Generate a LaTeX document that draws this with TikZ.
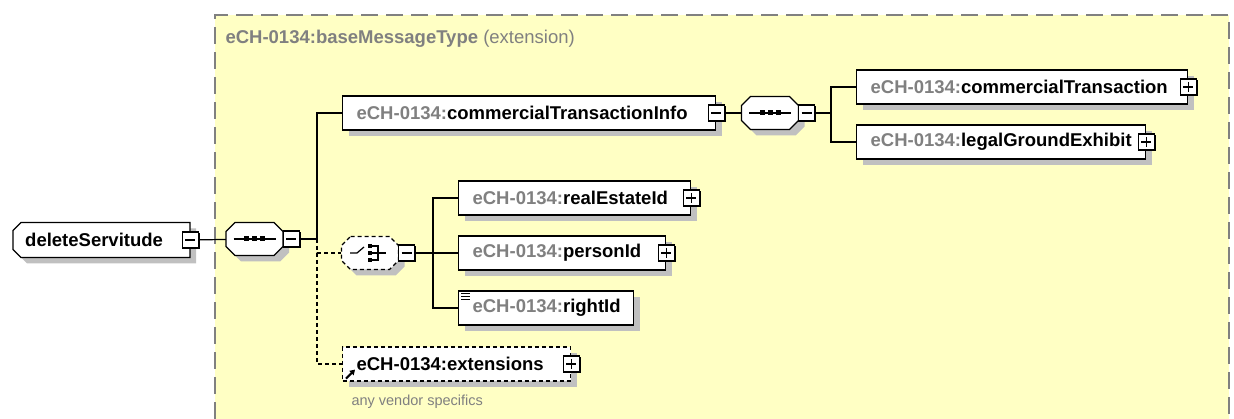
\documentclass[tikz,border=0pt]{standalone}
\usepackage{fontspec}
\setmainfont{Liberation Sans}
\usetikzlibrary{shadows, positioning, arrows.meta}

\definecolor{xsdyellow}{RGB}{255,255,196}
\definecolor{nsgray}{RGB}{128,128,128}
\definecolor{shadowgray}{RGB}{192,192,192}

% element name with the eCH-0134 prefix
\newcommand{\ech}[1]{\mbox{{\color{nsgray}eCH-0134:}#1}}

\tikzset{
  boxshadow/.style={drop shadow={shadow xshift=6pt, shadow yshift=-6pt, fill=shadowgray, opacity=1}},
  elem/.style={draw, fill=white, line width=1.2pt, minimum height=34pt, inner xsep=14pt, inner ysep=0pt, align=left, boxshadow},
  optelem/.style={elem, dash pattern=on 4pt off 3pt},
  compnode/.style={minimum width=57pt, minimum height=33pt, inner sep=0pt},
  pmbox/.style={draw, fill=white, line width=1.2pt, minimum size=16pt, inner sep=0pt,
    drop shadow={shadow xshift=1.5pt, shadow yshift=-1.5pt, fill=black, opacity=1}},
  minusbox/.style={pmbox, path picture={
    \draw[line width=1.2pt] ([xshift=3pt]path picture bounding box.west) -- ([xshift=-3pt]path picture bounding box.east);}},
  plusbox/.style={pmbox, path picture={
    \draw[line width=1.2pt] ([xshift=3pt]path picture bounding box.west) -- ([xshift=-3pt]path picture bounding box.east)
      ([yshift=-3pt]path picture bounding box.north) -- ([yshift=3pt]path picture bounding box.south);}},
  link/.style={line width=1.2pt},
  optlink/.style={link, dash pattern=on 4pt off 3pt},
  rootbox/.pic={
    \draw[fill=white, line width=1.2pt, boxshadow]
      (-80.5,-17.5) -- (88.5,-17.5) -- (88.5,17.5) -- (-80.5,17.5) -- (-88.5,9.5) -- (-88.5,-9.5) -- cycle;
  },
  compbox/.pic={
    \draw[fill=white, line width=1.2pt, boxshadow, pic actions]
      (-19.5,-16.5) -- (19.5,-16.5) -- (28.5,-7.5) -- (28.5,7.5) -- (19.5,16.5) -- (-19.5,16.5)
      -- (-28.5,7.5) -- (-28.5,-7.5) -- cycle;
  },
  seqicon/.pic={
    \draw[line width=1.2pt] (-21,0) -- (21,0);
    \foreach \dx in {-8,0,8}
      \fill (\dx-2.5,-2.5) rectangle (\dx+2.5,2.5);
  },
  choiceicon/.pic={
    \draw[line width=1.2pt] (-20,0) -- (-13,0) -- (-6,-6);
    \foreach \dy in {-7,0,7}
      \fill (-2,\dy-2) rectangle (2,\dy+2);
    \draw[line width=1.2pt] (2,-7) -- (8,-7) -- (8,7) -- (2,7) (2,0) -- (16,0);
  },
}

\begin{document}
\begin{tikzpicture}[x=1pt, y=-1pt, font=\fontsize{18.5}{22}\selectfont\bfseries]
  \useasboundingbox (0,0) rectangle (1234,419);
  % extension area
  \fill[xsdyellow] (215,15) rectangle (1229,419);
  \draw[nsgray, line width=1.5pt, dash pattern=on 17pt off 8pt] (215,419) -- (215,15) -- (1229,15) -- (1229,419);
  \node[anchor=west, text=nsgray] (hdr) at (222,39) {eCH-0134:baseMessageType \mdseries(extension)};

  % root element
  \pic at (101.5,240) {rootbox};
  \node[minimum height=35pt, inner xsep=12pt, text width=153pt, align=left, anchor=west] (del) at (13,240) {deleteServitude};
  \node[minusbox] (delm) at (del.east) {};

  % main sequence
  \node[compnode] (seq) at (254.5,239) {};
  \pic at (seq) {compbox};
  \pic at (seq) {seqicon};
  \node[minusbox, right=0pt of seq.east, anchor=center, xshift=8pt] (seqm) {};
  \coordinate (bus1) at (317,239);

  \node[elem, anchor=west, text width=345pt] (cti) at (342,113) {\ech{commercialTransactionInfo}};
  \node[minusbox] (ctim) at (cti.east) {};
  \node[compnode] (seqb) at (770,113) {};
  \pic at (seqb) {compbox};
  \pic at (seqb) {seqicon};
  \node[minusbox, right=0pt of seqb.east, anchor=center, xshift=8pt] (seqbm) {};
  \coordinate (bus3) at (831,113);
  \node[elem, anchor=west, text width=303pt] (ct) at (856,87) {\ech{commercialTransaction}};
  \node[plusbox] (ctp) at (ct.east) {};
  \node[elem, anchor=west, text width=261pt] (lge) at (856,142) {\ech{legalGroundExhibit}};
  \node[plusbox] (lgep) at (lge.east) {};

  % choice
  \node[compnode] (chc) at (370,253) {};
  \pic[dash pattern=on 4pt off 3pt] at (chc) {compbox};
  \pic at (chc) {choiceicon};
  \node[minusbox, right=0pt of chc.east, anchor=center, xshift=8pt] (chcm) {};
  \coordinate (bus2) at (433,253);
  \node[elem, anchor=west, text width=204pt] (rei) at (458,198) {\ech{realEstateId}};
  \node[plusbox] (reip) at (rei.east) {};
  \node[elem, anchor=west, text width=179pt] (pid) at (458,253) {\ech{personId}};
  \node[plusbox] (pidp) at (pid.east) {};
  \node[elem, anchor=west, text width=147pt] (rid) at (458,308) {\ech{rightId}};
  \foreach \dy in {3,6,9}
    \draw[line width=1pt] ([xshift=3pt,yshift=-\dy pt]rid.north west) -- ++(9,0);

  % extensions
  \node[optelem, anchor=west, text width=200pt] (ext) at (342,364) {\mbox{eCH-0134:extensions}};
  \node[plusbox] (extp) at (ext.east) {};
  \draw[line width=2pt, -{Triangle[length=5pt,width=6pt]}] ([xshift=4pt,yshift=3pt]ext.south west) -- ++(9,-9);
  \node[anchor=west, font=\fontsize{14.5}{17}\selectfont, text=nsgray] (extnote) at ([xshift=6pt,yshift=-20pt]ext.south west) {any vendor specifics};

  % connectors
  \draw[link] (delm) -- (seq);
  \draw[link] (seqm) -- (bus1) |- (cti);
  \draw[optlink] (bus1) |- (chc);
  \draw[optlink] (bus1) |- (ext);
  \draw[link] (ctim) -- (seqb);
  \draw[link] (seqbm) -- (bus3) |- (ct);
  \draw[link] (bus3) |- (lge);
  \draw[link] (chcm) -- (bus2) |- (rei);
  \draw[link] (bus2) -- (pid);
  \draw[link] (bus2) |- (rid);
\end{tikzpicture}
\end{document}
